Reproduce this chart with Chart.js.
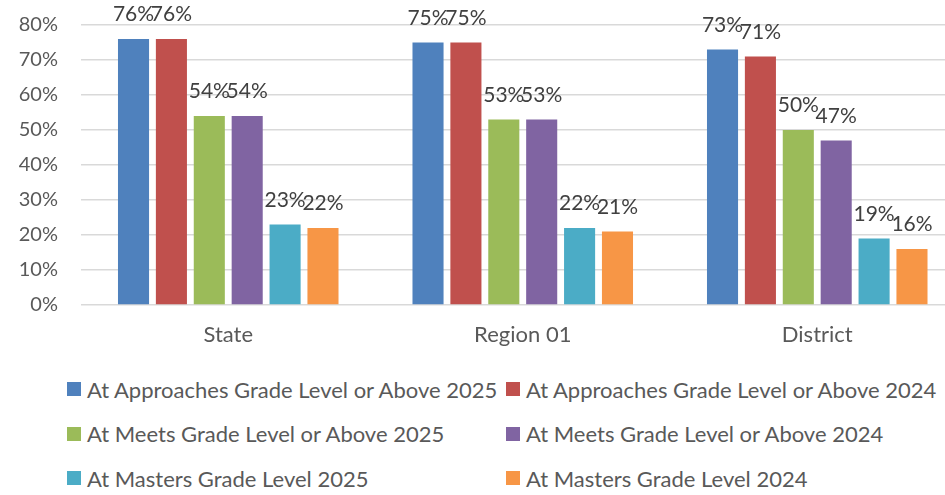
<!DOCTYPE html>
<html>
<head>
<meta charset="utf-8">
<script src="https://cdn.jsdelivr.net/npm/chart.js@4.4.1/dist/chart.umd.min.js"></script>
<style>
  html, body { margin: 0; padding: 0; background: #ffffff; overflow: hidden; width: 945px; height: 495px; }
  #wrap { position: absolute; left: 0; top: 0; width: 966px; height: 360px; }
  #legend { position: absolute; left: 67px; top: 367px; display: grid;
    grid-template-columns: 439px 439px; grid-auto-rows: 44.5px; align-items: center;
    font-family: Lato, "Liberation Sans", sans-serif; font-size: 22px; color: #595959; }
  .item { display: flex; align-items: center; white-space: nowrap; }
  .box { width: 14px; height: 14px; margin-right: 6px; flex: none; }
</style>
</head>
<body>
<div id="wrap"><canvas id="c" width="966" height="360"></canvas></div>
<div id="legend"></div>
<script>
const categories = ['State', 'Region 01', 'District'];
const approaches2025 = [76, 75, 73];
const approaches2024 = [76, 75, 71];
const meets2025 = [54, 53, 50];
const meets2024 = [54, 53, 47];
const masters2025 = [23, 22, 19];
const masters2024 = [22, 21, 16];
const seriesNames = [
  'At Approaches Grade Level or Above 2025',
  'At Approaches Grade Level or Above 2024',
  'At Meets Grade Level or Above 2025',
  'At Meets Grade Level or Above 2024',
  'At Masters Grade Level 2025',
  'At Masters Grade Level 2024'
];
const seriesColors = ['#4F81BD', '#C0504D', '#9BBB59', '#8064A2', '#4BACC6', '#F79646'];
const seriesValues = [approaches2025, approaches2024, meets2025, meets2024, masters2025, masters2024];
const yMax = 80;
const yStep = 10;

const valueLabels = {
  id: 'valueLabels',
  afterDatasetsDraw(chart) {
    const ctx = chart.ctx;
    ctx.save();
    ctx.font = '21px Lato, "Liberation Sans", sans-serif';
    ctx.fillStyle = '#404040';
    ctx.textAlign = 'center';
    ctx.textBaseline = 'alphabetic';
    chart.data.datasets.forEach((ds, i) => {
      const meta = chart.getDatasetMeta(i);
      meta.data.forEach((bar, j) => {
        ctx.fillText(ds.data[j] + '%', bar.x, bar.y - 18);
      });
    });
    ctx.restore();
  }
};

const chart = new Chart(document.getElementById('c'), {
  type: 'bar',
  data: {
    labels: categories,
    datasets: seriesValues.map((vals, i) => ({
      label: seriesNames[i],
      data: vals,
      backgroundColor: seriesColors[i],
      borderWidth: 0,
      categoryPercentage: 0.772,
      barPercentage: 0.82
    }))
  },
  options: {
    responsive: false,
    animation: false,
    devicePixelRatio: 1,
    layout: { padding: { top: 25, right: 1.5, bottom: 0, left: 0 } },
    plugins: { legend: { display: false }, tooltip: { enabled: false } },
    scales: {
      x: {
        grid: { display: false, drawTicks: false },
        border: { display: false },
        ticks: { color: '#595959', font: { family: 'Lato', size: 22 }, padding: 17 },
        afterFit(scale) { scale.height = 55; }
      },
      y: {
        min: 0, max: yMax,
        grid: { color: '#D9D9D9', lineWidth: 1.5, drawTicks: false },
        border: { display: false },
        ticks: { stepSize: yStep, color: '#595959', font: { family: 'Lato', size: 20 }, padding: 23,
          callback: v => v + '%' },
        afterFit(scale) { scale.width = 81; scale.paddingTop = 0; scale.paddingBottom = 0; }
      }
    }
  },
  plugins: [valueLabels]
});

const legend = document.getElementById('legend');
seriesNames.forEach((name, i) => {
  const item = document.createElement('div');
  item.className = 'item';
  const box = document.createElement('span');
  box.className = 'box';
  box.style.background = seriesColors[i];
  const txt = document.createElement('span');
  txt.textContent = name;
  item.appendChild(box);
  item.appendChild(txt);
  legend.appendChild(item);
});
</script>
</body>
</html>
